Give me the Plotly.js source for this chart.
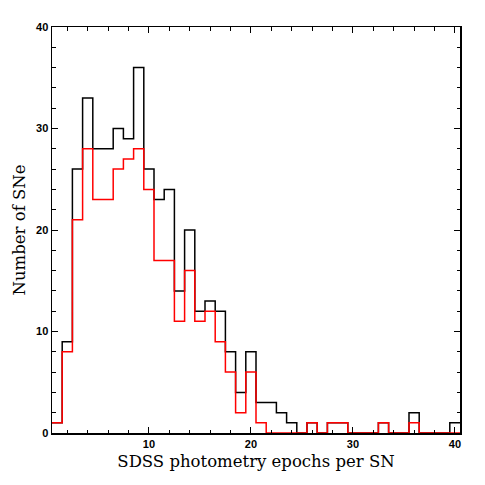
<!DOCTYPE html>
<html>
<head>
<meta charset="utf-8">
<script src="https://cdn.plot.ly/plotly-3.0.1.min.js"></script>
<style>
  body { margin: 0; background: #fff; }
  #chart { width: 485px; height: 485px; }
</style>
</head>
<body>
<div id="chart"></div>
<script>
// epochs per SN (bin centres) and counts
var epochs = [];
for (var i = 1; i <= 40; i++) epochs.push(i);

var allCounts = [1, 9, 26, 33, 28, 28, 30, 29, 36, 26,
                 23, 24, 14, 20, 12, 13, 12, 8, 4, 8,
                 3, 3, 2, 1, 0, 1, 0, 1, 1, 0,
                 0, 0, 1, 0, 0, 2, 0, 0, 0, 1];

var redCounts = [1, 8, 21, 28, 23, 23, 26, 27, 28, 24,
                 17, 17, 11, 16, 11, 12, 9, 6, 2, 6,
                 1, 0, 0, 0, 0, 1, 0, 1, 1, 0,
                 0, 0, 1, 0, 0, 1, 0, 0, 0, 0];

// turn bin centres + counts into an outlined step histogram
function stepTrace(centres, counts, colour) {
    var xs = centres.map(c => c - 0.5);
    xs.push(centres[centres.length - 1] + 0.5);
    var ys = counts.slice();
    ys.push(counts[counts.length - 1]);
    return {
        x: xs,
        y: ys,
        mode: 'lines',
        line: { shape: 'hv', color: colour, width: 1.5 },
        hoverinfo: 'skip',
        showlegend: false,
        type: 'scatter'
    };
}

var data = [
    stepTrace(epochs, allCounts, '#000000'),
    stepTrace(epochs, redCounts, '#ff0000')
];

var tickFont = { family: 'Liberation Sans, Arial, sans-serif', size: 11, color: '#000', weight: 'bold' };
var titleFont = { family: 'DejaVu Serif, serif', size: 16.5, color: '#000' };

var layout = {
    width: 485,
    height: 485,
    margin: { l: 52, r: 25, t: 27, b: 52 },
    paper_bgcolor: '#fff',
    plot_bgcolor: '#fff',
    xaxis: {
        range: [0.5, 40.5],
        tickvals: [10, 20, 30, 40],
        ticks: 'inside',
        ticklen: 6,
        tickwidth: 1,
        tickcolor: '#000',
        minor: { dtick: 2, tick0: 0, ticks: 'inside', ticklen: 3.5, tickwidth: 1, tickcolor: '#000' },
        showline: true,
        linecolor: '#000',
        linewidth: 1.5,
        mirror: 'allticks',
        showgrid: false,
        zeroline: false,
        tickfont: tickFont,
        title: { text: 'SDSS photometry epochs per SN', font: titleFont, standoff: 6 }
    },
    yaxis: {
        range: [0, 40],
        tickvals: [0, 10, 20, 30, 40],
        ticks: 'inside',
        ticklen: 6,
        tickwidth: 1,
        tickcolor: '#000',
        minor: { dtick: 2, tick0: 0, ticks: 'inside', ticklen: 3.5, tickwidth: 1, tickcolor: '#000' },
        showline: true,
        linecolor: '#000',
        linewidth: 1.5,
        mirror: 'allticks',
        showgrid: false,
        zeroline: false,
        tickfont: tickFont,
        title: { text: 'Number of SNe', font: titleFont, standoff: 6 }
    }
};

Plotly.newPlot('chart', data, layout, { displayModeBar: false, staticPlot: true });
</script>
</body>
</html>
